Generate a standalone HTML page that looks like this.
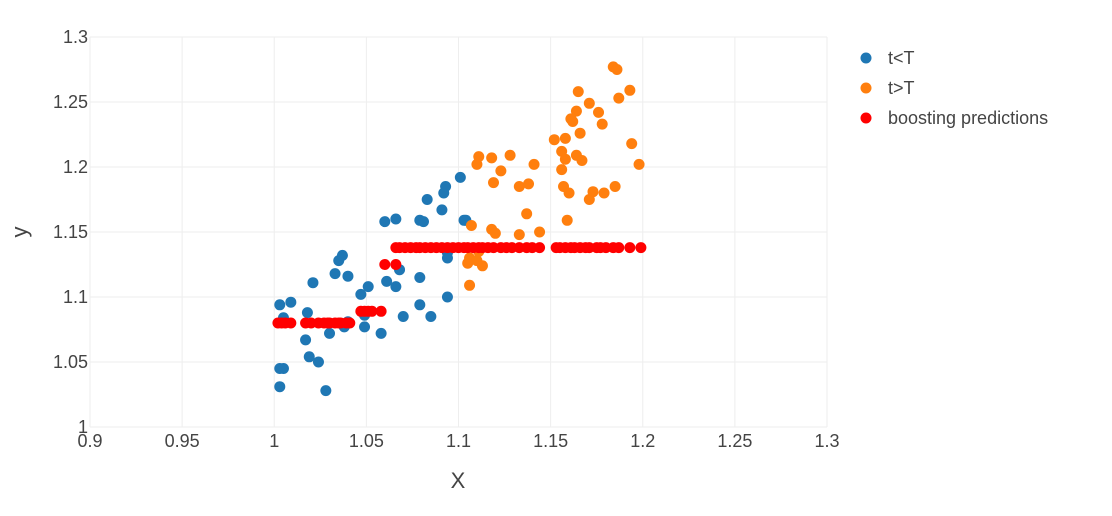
<!DOCTYPE html>
<html><head><meta charset="utf-8"><style>
body{margin:0;background:#fff;}
svg{font-family:"Liberation Sans",sans-serif;}
</style></head><body>
<svg id="chart" width="1112" height="511"></svg>
<script>
const xTicks=[0.9,0.95,1,1.05,1.1,1.15,1.2,1.25,1.3];
const yTicks=[1,1.05,1.1,1.15,1.2,1.25,1.3];
const blueX=[1.003,1.005,1.009,1.003,1.005,1.003,1.018,1.017,1.019,1.024,1.021,1.028,1.030,1.033,1.035,1.037,1.040,1.038,1.040,1.047,1.049,1.049,1.051,1.058,1.060,1.066,1.061,1.066,1.068,1.070,1.079,1.079,1.079,1.081,1.083,1.085,1.091,1.092,1.093,1.094,1.094,1.094,1.101,1.103,1.104];
const blueY=[1.094,1.084,1.096,1.045,1.045,1.031,1.088,1.067,1.054,1.050,1.111,1.028,1.072,1.118,1.128,1.132,1.116,1.077,1.081,1.102,1.086,1.077,1.108,1.072,1.158,1.160,1.112,1.108,1.121,1.085,1.094,1.115,1.159,1.158,1.175,1.085,1.167,1.180,1.185,1.130,1.134,1.100,1.192,1.159,1.159];
const orangeX=[1.184,1.186,1.193,1.165,1.171,1.187,1.176,1.178,1.164,1.161,1.162,1.166,1.152,1.158,1.194,1.156,1.158,1.164,1.167,1.198,1.156,1.157,1.160,1.173,1.171,1.179,1.185,1.159,1.111,1.110,1.118,1.128,1.123,1.119,1.141,1.133,1.138,1.137,1.107,1.118,1.120,1.133,1.144,1.105,1.106,1.110,1.113,1.111,1.106];
const orangeY=[1.277,1.275,1.259,1.258,1.249,1.253,1.242,1.233,1.243,1.237,1.235,1.226,1.221,1.222,1.218,1.212,1.206,1.209,1.205,1.202,1.198,1.185,1.180,1.181,1.175,1.180,1.185,1.159,1.208,1.202,1.207,1.209,1.197,1.188,1.202,1.185,1.187,1.164,1.155,1.152,1.149,1.148,1.150,1.126,1.130,1.128,1.124,1.135,1.109];
const predX=[1.002,1.004,1.006,1.009,1.017,1.020,1.024,1.027,1.029,1.030,1.033,1.035,1.036,1.039,1.041,1.047,1.049,1.051,1.053,1.058,1.060,1.066,1.066,1.068,1.071,1.074,1.077,1.079,1.082,1.085,1.088,1.091,1.094,1.097,1.100,1.103,1.105,1.108,1.111,1.113,1.116,1.119,1.123,1.126,1.129,1.133,1.137,1.140,1.144,1.153,1.155,1.158,1.161,1.163,1.166,1.169,1.171,1.175,1.177,1.180,1.184,1.187,1.193,1.199];
const predY=[1.080,1.080,1.080,1.080,1.080,1.080,1.080,1.080,1.080,1.080,1.080,1.080,1.080,1.080,1.080,1.089,1.089,1.089,1.089,1.089,1.125,1.125,1.138,1.138,1.138,1.138,1.138,1.138,1.138,1.138,1.138,1.138,1.138,1.138,1.138,1.138,1.138,1.138,1.138,1.138,1.138,1.138,1.138,1.138,1.138,1.138,1.138,1.138,1.138,1.138,1.138,1.138,1.138,1.138,1.138,1.138,1.138,1.138,1.138,1.138,1.138,1.138,1.138,1.138];
const svg=document.getElementById('chart');
const NS='http://www.w3.org/2000/svg';
const X0=90,X1=827,Y0=427,Y1=37;
function sx(v){return X0+(v-0.9)/0.4*(X1-X0);}
function sy(v){return Y0-(v-1)/0.3*(Y0-Y1);}
function mk(t,a,p){const e=document.createElementNS(NS,t);for(const k in a)e.setAttribute(k,a[k]);(p||svg).appendChild(e);return e;}
const grid=mk('g',{});


xTicks.forEach(t=>{
  mk('line',{x1:sx(t),x2:sx(t),y1:Y1,y2:Y0,stroke:'#eee','stroke-width':1},grid);
  const l=mk('text',{x:sx(t),y:Y0+20,'text-anchor':'middle','font-size':18,fill:'#444'});
  l.textContent=t;
  
  
});
yTicks.forEach(t=>{
  mk('line',{x1:X0,x2:X1,y1:sy(t),y2:sy(t),stroke:'#eee','stroke-width':1},grid);
  const l=mk('text',{x:X0-2,y:sy(t)+6,'text-anchor':'end','font-size':18,fill:'#444'});
  l.textContent=t;
  
  
});
const xt=mk('text',{x:458,y:488,'text-anchor':'middle','font-size':22,fill:'#444'});xt.textContent='X';


const yt=mk('text',{x:27,y:232,'text-anchor':'middle','font-size':22,fill:'#444',transform:'rotate(-90 27 232)'});yt.textContent='y';


function series(xs,ys,col,name){
  const g=mk('g',{});
  
  
  xs.forEach((x,i)=>{
    const c=mk('circle',{cx:sx(x),cy:sy(ys[i]),r:5.5,fill:col},g);
    
    
  });
}
series(blueX,blueY,'#1f77b4','series-t-less-T');
series(orangeX,orangeY,'#ff7f0e','series-t-greater-T');
series(predX,predY,'#ff0000','series-boosting-predictions');
const leg=[['t<T','#1f77b4'],['t>T','#ff7f0e'],['boosting predictions','#ff0000']];
leg.forEach((d,i)=>{
  const g=mk('g',{});
  
  
  mk('circle',{cx:866,cy:58+i*30,r:5.5,fill:d[1]},g);
  const t=mk('text',{x:888,y:64+i*30,'font-size':18,fill:'#444'},g);t.textContent=d[0];
});
</script>
</body></html>
